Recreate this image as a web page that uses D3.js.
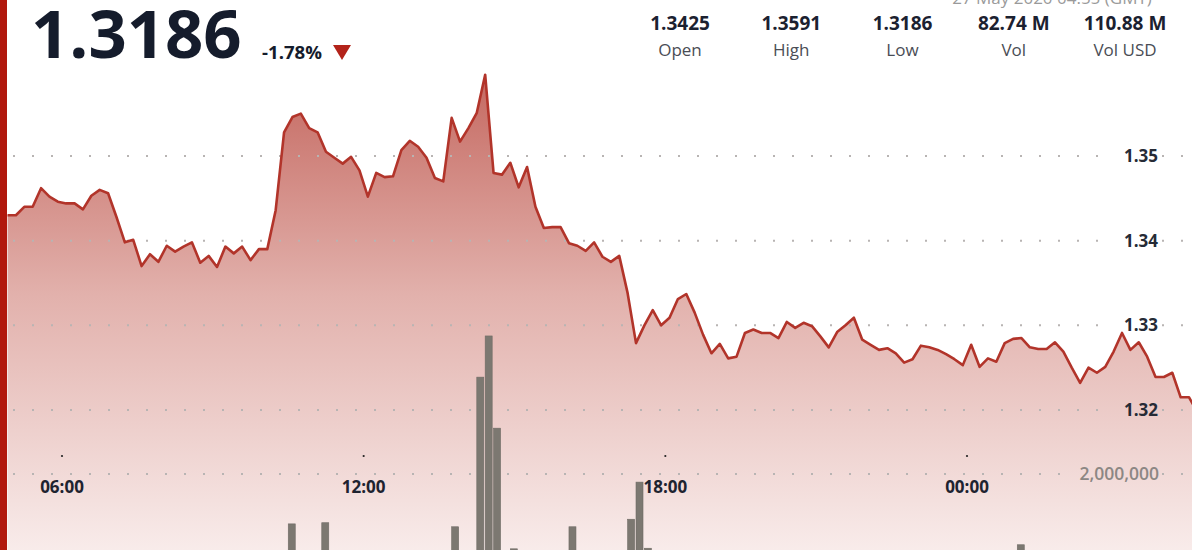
<!DOCTYPE html>
<html>
<head>
<meta charset="utf-8">
<script src="https://cdn.jsdelivr.net/npm/d3@7"></script>
<style>
  html, body { margin: 0; padding: 0; background: #fff; overflow: hidden; }
  svg { display: block; font-family: "Open Sans", sans-serif; }
</style>
</head>
<body>
<div id="chart"></div>
<script>
// price: one point every 10 minutes, starting 26 May 2020 04:55 GMT
const priceStart = "2020-05-26T04:55:00Z";
const stepMinutes = 10;
const prices = [
  1.3430, 1.3430, 1.3440, 1.3440, 1.3462, 1.3452, 1.3446, 1.3444, 1.3444, 1.3437,
  1.3453, 1.3460, 1.3456, 1.3428, 1.3398, 1.3401, 1.3370, 1.3384, 1.3375, 1.3394,
  1.3387, 1.3393, 1.3398, 1.3374, 1.3382, 1.3369, 1.3393, 1.3385, 1.3393, 1.3377,
  1.3390, 1.3390, 1.3436, 1.3528, 1.3546, 1.3550, 1.3533, 1.3528, 1.3505, 1.3498,
  1.3491, 1.3499, 1.3483, 1.3452, 1.3480, 1.3475, 1.3476, 1.3507, 1.3518, 1.3511,
  1.3498, 1.3474, 1.3470, 1.3545, 1.3517, 1.3533, 1.3551, 1.3596, 1.3480, 1.3478,
  1.3492, 1.3463, 1.3487, 1.3440, 1.3415, 1.3416, 1.3416, 1.3397, 1.3394, 1.3388,
  1.3398, 1.3381, 1.3375, 1.3382, 1.3338, 1.3279, 1.3300, 1.3318, 1.3300, 1.3309,
  1.3331, 1.3337, 1.3315, 1.3289, 1.3267, 1.3278, 1.3261, 1.3263, 1.3291, 1.3295,
  1.3291, 1.3291, 1.3285, 1.3304, 1.3297, 1.3303, 1.3299, 1.3287, 1.3274, 1.3292,
  1.3300, 1.3309, 1.3283, 1.3277, 1.3271, 1.3273, 1.3267, 1.3256, 1.3260, 1.3276,
  1.3274, 1.3271, 1.3266, 1.3260, 1.3253, 1.3277, 1.3251, 1.3261, 1.3257, 1.3279,
  1.3284, 1.3285, 1.3274, 1.3272, 1.3272, 1.3280, 1.3269, 1.3250, 1.3232, 1.3250,
  1.3244, 1.3251, 1.3269, 1.3291, 1.3271, 1.3280, 1.3263, 1.3239, 1.3239, 1.3244,
  1.3215, 1.3215, 1.3197, 1.3186
];

// volume bars that reach into the visible part of the chart
const volumeTimes = [
  "2020-05-26T10:30:00Z", "2020-05-26T11:10:00Z", "2020-05-26T13:45:00Z",
  "2020-05-26T14:15:00Z", "2020-05-26T14:25:00Z", "2020-05-26T14:35:00Z",
  "2020-05-26T14:55:00Z", "2020-05-26T16:05:00Z", "2020-05-26T17:15:00Z",
  "2020-05-26T17:25:00Z", "2020-05-26T17:35:00Z", "2020-05-27T01:00:00Z"
];
const volumes = [
  1140000, 1160000, 1090000, 3670000, 4380000, 2790000,
  710000, 1090000, 1220000, 1860000, 720000, 780000
];

const priceTicks = [1.32, 1.33, 1.34, 1.35];
const volumeTicks = [2000000];
const timeTicks = [
  "2020-05-26T06:00:00Z", "2020-05-26T12:00:00Z",
  "2020-05-26T18:00:00Z", "2020-05-27T00:00:00Z"
];

const lastPrice = "1.3186";
const changeText = "-1.78%";
const dateText = "27 May 2020 04:55 (GMT)";
const statValues = ["1.3425", "1.3591", "1.3186", "82.74 M", "110.88 M"];
const statLabels = ["Open", "High", "Low", "Vol", "Vol USD"];

const width = 1192;
const height = 550;
const textColor = "#151c2c";

const parseTime = d3.utcParse("%Y-%m-%dT%H:%M:%SZ");
const t0 = parseTime(priceStart);
const priceData = prices.map((p, i) => ({ time: d3.utcMinute.offset(t0, i * stepMinutes), price: p }));
const volumeData = volumeTimes.map((t, i) => ({ time: parseTime(t), volume: volumes[i] }));

const svg = d3.select("#chart")
  .append("svg")
  .attr("width", width)
  .attr("height", height);

// scales
const xScale = d3.scaleUtc()
  .domain([parseTime(timeTicks[0]), parseTime(timeTicks[3])])
  .range([62, 967]);

const yScale = d3.scaleLinear()
  .domain([1.32, 1.35])
  .range([410, 156]);

const volScale = d3.scaleLinear()
  .domain([0, 2000000])
  .range([590, 474]);

// area gradient
const defs = svg.append("defs");
const grad = defs.append("linearGradient")
  .attr("id", "areaFill")
  .attr("gradientUnits", "userSpaceOnUse")
  .attr("x1", 0).attr("y1", 70)
  .attr("x2", 0).attr("y2", 570);
grad.append("stop").attr("offset", 0).attr("stop-color", "#c4675f");
grad.append("stop").attr("offset", 0.45).attr("stop-color", "#e2b1ac");
grad.append("stop").attr("offset", 1).attr("stop-color", "#faf0ef");

const area = d3.area()
  .x(d => xScale(d.time))
  .y0(height + 60)
  .y1(d => yScale(d.price));

svg.append("path")
  .datum(priceData)
  .attr("d", area)
  .attr("fill", "url(#areaFill)");

// dotted gridlines, broken where the tick labels sit
const drawGrid = (y, gapStart) => {
  [[13, gapStart], [1162, width]].forEach(([a, b]) => {
    svg.append("line")
      .attr("x1", a).attr("x2", b)
      .attr("y1", y).attr("y2", y)
      .attr("stroke", "#b8b4b3")
      .attr("stroke-width", 2)
      .attr("stroke-dasharray", "2 17");
  });
};

priceTicks.forEach(t => drawGrid(yScale(t), 1112));
volumeTicks.forEach(t => drawGrid(volScale(t), 1068));

// volume bars
svg.selectAll("rect.vol")
  .data(volumeData)
  .join("rect")
  .attr("class", "vol")
  .attr("x", d => xScale(d.time))
  .attr("y", d => volScale(d.volume))
  .attr("width", 7)
  .attr("height", d => volScale(0) - volScale(d.volume))
  .attr("fill", "#7c7871")
  .attr("stroke", "#6f6b65")
  .attr("stroke-width", 0.6);

// price line
const line = d3.line()
  .x(d => xScale(d.time))
  .y(d => yScale(d.price));

svg.append("path")
  .datum(priceData)
  .attr("d", line)
  .attr("fill", "none")
  .attr("stroke", "#b2342a")
  .attr("stroke-width", 2.6)
  .attr("stroke-linejoin", "round");

// right price labels
svg.selectAll("text.ptick")
  .data(priceTicks)
  .join("text")
  .attr("class", "ptick")
  .attr("x", 1158)
  .attr("y", d => yScale(d) + 6)
  .attr("text-anchor", "end")
  .attr("font-size", "17px")
  .attr("font-weight", 700)
  .attr("fill", "#262b36")
  .text(d3.format(".2f"));

svg.selectAll("text.vtick")
  .data(volumeTicks)
  .join("text")
  .attr("class", "vtick")
  .attr("x", 1159)
  .attr("y", d => volScale(d) + 6)
  .attr("text-anchor", "end")
  .attr("font-size", "17.5px")
  .attr("font-weight", 600)
  .attr("fill", "#8c8784")
  .text(d3.format(","));

// time axis: small dots + bold labels
const timeDates = timeTicks.map(parseTime);
svg.selectAll("circle.tdot")
  .data(timeDates)
  .join("circle")
  .attr("class", "tdot")
  .attr("cx", d => xScale(d))
  .attr("cy", 456)
  .attr("r", 1.1)
  .attr("fill", "#222");

svg.selectAll("text.tlabel")
  .data(timeDates)
  .join("text")
  .attr("class", "tlabel")
  .attr("x", d => xScale(d))
  .attr("y", 493)
  .attr("text-anchor", "middle")
  .attr("font-size", "17px")
  .attr("font-weight", 700)
  .attr("fill", "#1e2330")
  .text(d3.utcFormat("%H:%M"));

// header: last price and change
svg.append("text")
  .attr("x", 31)
  .attr("y", 58)
  .attr("font-size", "67px")
  .attr("font-weight", 700)
  .attr("fill", textColor)
  .text(lastPrice);

svg.append("text")
  .attr("x", 262)
  .attr("y", 59)
  .attr("font-size", "17px")
  .attr("font-weight", 700)
  .attr("textLength", 60)
  .attr("lengthAdjust", "spacingAndGlyphs")
  .attr("fill", textColor)
  .text(changeText);

svg.append("path")
  .attr("d", d3.line()([[333, 45], [351, 45], [342, 60]]) + "Z")
  .attr("fill", "#b3231a");

// header: stats
const statX = d3.scalePoint().domain(statLabels).range([680, 1125]);

svg.append("text")
  .attr("x", 1052)
  .attr("y", 4)
  .attr("text-anchor", "middle")
  .attr("font-size", "17px")
  .attr("fill", "#9a9a9a")
  .text(dateText);

svg.selectAll("text.sval")
  .data(statValues)
  .join("text")
  .attr("class", "sval")
  .attr("x", (d, i) => statX(statLabels[i]))
  .attr("y", 30)
  .attr("text-anchor", "middle")
  .attr("font-size", "19px")
  .attr("font-weight", 700)
  .attr("fill", "#1b2130")
  .text(d => d);

svg.selectAll("text.slabel")
  .data(statLabels)
  .join("text")
  .attr("class", "slabel")
  .attr("x", d => statX(d))
  .attr("y", 56)
  .attr("text-anchor", "middle")
  .attr("font-size", "17px")
  .attr("fill", "#4a4d55")
  .text(d => d);

// red strip on the left edge
svg.append("rect")
  .attr("x", 0)
  .attr("y", 0)
  .attr("width", 7)
  .attr("height", height)
  .attr("fill", "#b1180d");
</script>
</body>
</html>
